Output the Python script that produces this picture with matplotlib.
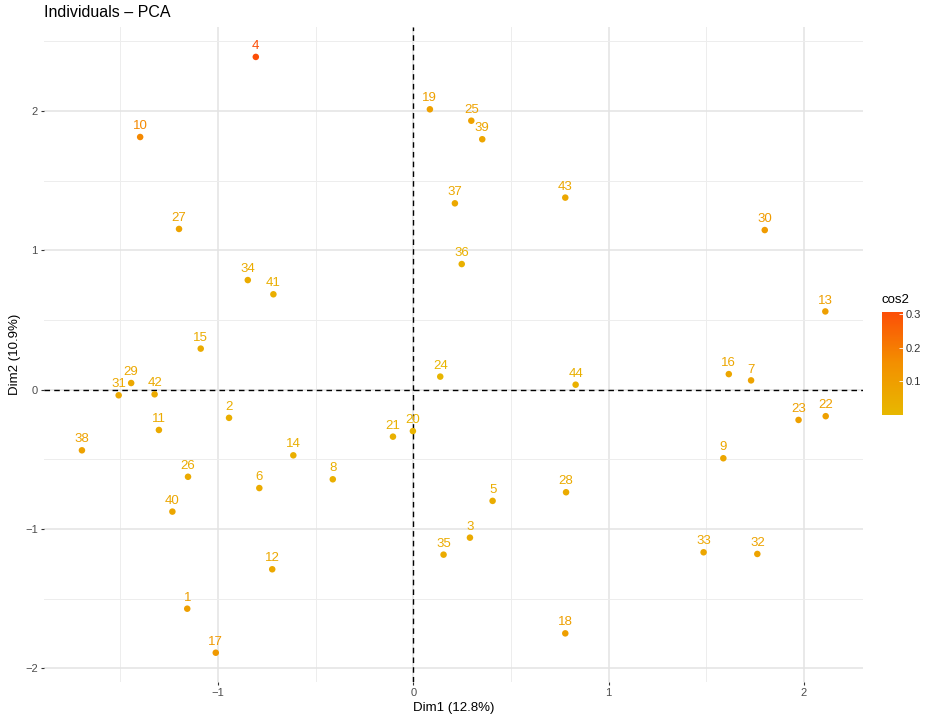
import matplotlib
matplotlib.use("Agg")
import matplotlib.pyplot as plt
import numpy as np
from matplotlib.colors import LinearSegmentedColormap, Normalize
from matplotlib.ticker import MultipleLocator

plt.rcParams['font.family'] = ['Liberation Sans', 'DejaVu Sans']

# individual ids and their coordinates on the first two dimensions
ids = [1, 2, 3, 4, 5, 6, 7, 8, 9, 10, 11, 12, 13, 14, 15, 16, 17, 18, 19, 20, 21, 22,
       23, 24, 25, 26, 27, 28, 29, 30, 31, 32, 33, 34, 35, 36, 37, 38, 39, 40, 41, 42, 43, 44]
dim1 = [-1.157, -0.943, 0.290, -0.806, 0.406, -0.788, 1.729, -0.412, 1.587, -1.398,
        -1.302, -0.722, 2.109, -0.614, -1.088, 1.615, -1.011, 0.778, 0.085, -0.002,
        -0.104, 2.111, 1.972, 0.138, 0.297, -1.153, -1.199, 0.782, -1.444, 1.799,
        -1.508, 1.761, 1.486, -0.847, 0.155, 0.248, 0.213, -1.696, 0.353, -1.233,
        -0.716, -1.324, 0.778, 0.831]
dim2 = [-1.572, -0.202, -1.062, 2.389, -0.798, -0.706, 0.067, -0.643, -0.492, 1.814,
        -0.289, -1.289, 0.562, -0.471, 0.295, 0.112, -1.888, -1.749, 2.013, -0.297,
        -0.337, -0.190, -0.217, 0.094, 1.931, -0.625, 1.154, -0.736, 0.048, 1.146,
        -0.040, -1.179, -1.167, 0.787, -1.184, 0.902, 1.338, -0.435, 1.798, -0.875,
        0.685, -0.033, 1.379, 0.036]
cos2 = [0.095, 0.040, 0.055, 0.307, 0.045, 0.050, 0.080, 0.035, 0.070, 0.170,
        0.055, 0.060, 0.095, 0.035, 0.050, 0.070, 0.120, 0.095, 0.090, 0.020,
        0.030, 0.090, 0.090, 0.010, 0.085, 0.055, 0.080, 0.050, 0.060, 0.110,
        0.060, 0.080, 0.070, 0.050, 0.050, 0.030, 0.060, 0.085, 0.075, 0.070,
        0.040, 0.055, 0.065, 0.030]

cmap = LinearSegmentedColormap.from_list("cos2", ["#E7B800", "#F39000", "#FC4E07"])
norm = Normalize(vmin=0.0, vmax=0.307)

fig = plt.figure(figsize=(9.25, 7.19), dpi=100)
ax = fig.add_axes([0.0476, 0.0515, 0.8854, 0.911])

ax.set_xlim(-1.890, 2.302)
ax.set_ylim(-2.098, 2.604)

ax.xaxis.set_major_locator(MultipleLocator(1))
ax.yaxis.set_major_locator(MultipleLocator(1))
ax.xaxis.set_minor_locator(MultipleLocator(0.5))
ax.yaxis.set_minor_locator(MultipleLocator(0.5))
ax.grid(which='major', color='#E3E3E3', linewidth=1.1, zorder=0)
ax.grid(which='minor', color='#EDEDED', linewidth=0.7, zorder=0)
ax.set_axisbelow(True)
for s in ax.spines.values():
    s.set_visible(False)
ax.tick_params(which='major', length=2.5, width=0.8, color='#333333',
               labelsize=8, labelcolor='#4D4D4D', pad=2)
ax.tick_params(which='minor', length=0)

ax.axhline(0, color='black', linestyle=(0, (4, 3)), linewidth=1.0, zorder=1)
ax.axvline(0, color='black', linestyle=(0, (4, 3)), linewidth=1.0, zorder=1)

colors = cmap(norm(np.array(cos2)))
ax.scatter(dim1, dim2, s=22, c=colors, edgecolors='none', zorder=3)
for i, x, y, c in zip(ids, dim1, dim2, colors):
    ax.annotate(str(i), (x, y), xytext=(0, 3.5), textcoords='offset points',
                ha='center', va='bottom', fontsize=9.5, color=c, zorder=4)

ax.set_xlabel('Dim1 (12.8%)', fontsize=9.5, labelpad=3)
ax.set_ylabel('Dim2 (10.9%)', fontsize=9.5, labelpad=3)
ax.set_title('Individuals \u2013 PCA', fontsize=11.5, loc='left', x=0.0, pad=7)

# colour legend
cax = fig.add_axes([0.9535, 0.4228, 0.0227, 0.1433])
cb = fig.colorbar(plt.cm.ScalarMappable(norm=norm, cmap=cmap), cax=cax, ticks=[0.1, 0.2, 0.3])
cb.outline.set_visible(False)
cb.ax.tick_params(length=3, width=0.6, color='white', direction='in',
                  labelsize=8, labelcolor='#333333', pad=2)
cb.ax.set_yticklabels(['0.1', '0.2', '0.3'])
cax.text(0, 1.06, 'cos2', transform=cax.transAxes, fontsize=9.5, ha='left', va='bottom')

fig.savefig('out.png', dpi=100)
